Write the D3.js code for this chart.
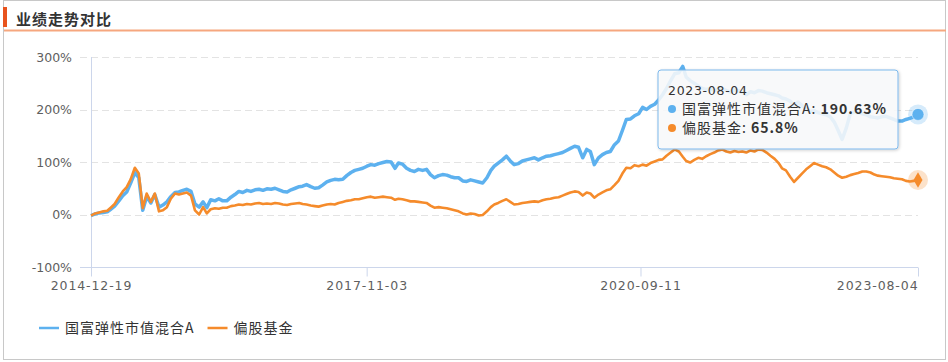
<!DOCTYPE html>
<html>
<head>
<meta charset="utf-8">
<script src="https://cdn.jsdelivr.net/npm/d3@7"></script>
<style>
  body { margin: 0; background: #fff; }
  svg { display: block; font-family: "Noto Sans CJK SC", "DejaVu Sans", sans-serif; }
</style>
</head>
<body>
<div id="chart"></div>
<script>
'use strict';

const title = "业绩走势对比";
const seriesNames = ["国富弹性市值混合A", "偏股基金"];
const startDate = "2014-12-19",
      endDate = "2023-08-04";
const tickDates = ["2014-12-19", "2017-11-03", "2020-09-11", "2023-08-04"];
const yTicks = [-100, 0, 100, 200, 300];

// cumulative return (%), one point per half month: 19th/4th
const fundValues = [
  -2, 1, 3, 4, 5, 10, 16, 26, 36, 43,            // 0
  60, 80, 70, 8, 34, 22, 38, 14, 18, 24,         // 10
  34, 42, 43, 46, 48, 44, 20, 14, 24, 13,        // 20
  28, 26, 30, 26, 26, 33, 38, 44, 42, 46,        // 30
  44, 47, 48, 46, 49, 48, 50, 47, 44, 43,        // 40
  47, 50, 53, 54, 57, 53, 50, 51, 56, 62,        // 50
  65, 67, 66, 67, 74, 80, 84, 86, 88, 92,        // 60
  95, 94, 97, 99, 101, 100, 88, 98, 96, 88,      // 70
  84, 82, 86, 84, 86, 76, 70, 74, 76, 75,        // 80
  72, 70, 70, 64, 63, 66, 64, 62, 60, 70,        // 90
  84, 92, 98, 104, 111, 102, 95, 97, 102, 104,   // 100
  106, 108, 104, 108, 111, 112, 114, 116, 118, 122, // 110
  126, 130, 128, 108, 124, 120, 95, 108, 114, 118,  // 120
  120, 133, 140, 160, 181, 182, 188, 192, 204, 200, // 130
  206, 210, 218, 228, 240, 255, 268, 270, 282, 262, // 140
  255, 250, 245, 240, 238, 240, 236, 238, 240, 236, // 150
  233, 238, 236, 232, 228, 234, 232, 236, 235, 232, // 160
  230, 228, 226, 222, 220, 216, 208, 214, 208, 200, // 170
  196, 198, 194, 192, 190, 186, 176, 160, 143, 165, // 180
  192, 195, 194, 192, 190, 186, 185, 184, 186, 187, // 190
  184, 181, 178, 178, 181, 183, 186, 190.63         // 200
];

const benchValues = [
  -2, 2, 4, 6, 7, 13, 20, 33, 44, 52,            // 0
  67, 89, 78, 12, 40, 24, 40, 6, 8, 14,          // 10
  30, 40, 38, 40, 42, 36, 8, 0, 14, 2,           // 20
  10, 12, 11, 13, 13, 16, 17, 19, 18, 20,        // 30
  19, 21, 22, 20, 21, 20, 22, 21, 19, 18,        // 40
  20, 21, 22, 20, 19, 17, 16, 15, 17, 19,        // 50
  20, 19, 22, 24, 26, 27, 29, 29, 31, 33,        // 60
  34, 32, 33, 34, 33, 32, 28, 30, 29, 27,        // 70
  25, 25, 24, 23, 22, 17, 13, 14, 13, 12,        // 80
  10, 8, 6, 2, 0, 2, 1, -2, -1, 6,               // 90
  14, 19, 22, 26, 29, 24, 19, 20, 22, 23,        // 100
  24, 25, 24, 27, 29, 30, 32, 33, 36, 39,        // 110
  42, 44, 43, 36, 42, 40, 32, 38, 42, 46,        // 120
  48, 56, 64, 78, 89, 88, 94, 92, 95, 93,        // 130
  98, 101, 104, 105, 112, 118, 124, 120, 110, 102, // 140
  99, 104, 108, 106, 111, 115, 118, 122, 124, 120, // 150
  118, 121, 119, 120, 118, 122, 120, 124, 123, 118, // 160
  112, 106, 98, 88, 84, 72, 62, 70, 78, 86,      // 170
  92, 98, 95, 92, 90, 86, 80, 74, 70, 72,        // 180
  75, 77, 79, 82, 82, 80, 76, 74, 73, 72,        // 190
  71, 69, 68, 67, 64, 63, 64, 65.8               // 200
];

const colors = ["#5db1ef", "#f58b2b"];

const W = 948, H = 362;
const parse = d3.timeParse("%Y-%m-%d"),
      fmt = d3.timeFormat("%Y-%m-%d");

// half-month sampling dates
const dates = [parse(startDate)];
d3.timeMonth.range(parse("2015-01-01"), parse("2023-08-01")).forEach(m => {
  dates.push(d3.timeDay.offset(m, 3), d3.timeDay.offset(m, 18));
});
dates.push(parse(endDate));

const margin = {top: 57, right: 30, bottom: 95, left: 91},
      plotW = 918 - margin.left,
      plotH = 267 - margin.top;

const x = d3.scaleTime()
    .domain([parse(startDate), parse(endDate)])
    .range([margin.left, margin.left + plotW]);
const y = d3.scaleLinear()
    .domain([-100, 300])
    .range([margin.top + plotH, margin.top]);

const svg = d3.select("#chart").append("svg")
    .attr("width", W)
    .attr("height", H);

const defs = svg.append("defs");
const shadow = defs.append("filter").attr("id", "shadow")
    .attr("x", "-10%").attr("y", "-10%").attr("width", "120%").attr("height", "130%");
shadow.append("feDropShadow")
    .attr("dx", 1).attr("dy", 1).attr("stdDeviation", 1.5)
    .attr("flood-color", "#000").attr("flood-opacity", 0.2);

// frame + title
svg.append("rect")
    .attr("x", 3.5).attr("y", 0.5)
    .attr("width", 942).attr("height", 359)
    .attr("fill", "none").attr("stroke", "#c8c8c8");
svg.append("rect")
    .attr("x", 3).attr("y", 7).attr("width", 4).attr("height", 20)
    .attr("fill", "#e8531d");
svg.append("line")
    .attr("x1", 4).attr("x2", 946).attr("y1", 30.5).attr("y2", 30.5)
    .attr("stroke", "#f6a77f").attr("stroke-width", 2);
svg.append("text")
    .attr("x", 16).attr("y", 25)
    .attr("font-size", 15).attr("font-weight", "bold")
    .attr("letter-spacing", 1)
    .attr("fill", "#333")
    .text(title);

// grid lines
svg.append("g").selectAll("line")
  .data(yTicks.filter(d => d > -100))
  .enter().append("line")
    .attr("x1", 80).attr("x2", 918)
    .attr("y1", d => Math.round(y(d)) + 0.5)
    .attr("y2", d => Math.round(y(d)) + 0.5)
    .attr("stroke", "#e3e3e3")
    .attr("stroke-dasharray", "7,4");

// y axis labels
const yAxis = svg.append("g")
    .attr("transform", `translate(${margin.left},0)`)
    .call(d3.axisLeft(y).tickValues(yTicks).tickSize(0).tickPadding(19)
      .tickFormat(d => d + "%"));
yAxis.select(".domain").remove();
yAxis.selectAll("text")
    .attr("font-size", 12.5)
    .attr("font-family", "DejaVu Sans")
    .attr("fill", "#606060");

// x axis
const xAxis = svg.append("g")
    .attr("transform", `translate(0,${Math.round(y(-100)) + 0.5})`)
    .call(d3.axisBottom(x).tickValues(tickDates.map(parse)).tickSize(9).tickPadding(5)
      .tickFormat(fmt));
xAxis.select(".domain").attr("stroke", "#ccd6eb").attr("d", `M80,0H918`);
xAxis.selectAll(".tick line").attr("stroke", "#ccd6eb");
xAxis.selectAll("text")
    .attr("font-size", 12.5)
    .attr("font-family", "DejaVu Sans")
    .attr("letter-spacing", 0.9)
    .attr("fill", "#606060")
    .attr("text-anchor", (d, i) => i === tickDates.length - 1 ? "end" : "middle");

// y axis line
svg.append("line")
    .attr("x1", margin.left + 0.5).attr("x2", margin.left + 0.5)
    .attr("y1", margin.top).attr("y2", Math.round(y(-100)))
    .attr("stroke", "#ccd6eb");

// lines
const line = d3.line()
    .x((d, i) => x(dates[i]))
    .y(d => y(d));

svg.append("path")
    .datum(fundValues)
    .attr("fill", "none")
    .attr("stroke", colors[0])
    .attr("stroke-width", 3.5)
    .attr("stroke-linejoin", "round")
    .attr("d", line);

svg.append("path")
    .datum(benchValues)
    .attr("fill", "none")
    .attr("stroke", colors[1])
    .attr("stroke-width", 2.6)
    .attr("stroke-linejoin", "round")
    .attr("d", line);

// end markers
const lastDate = dates[dates.length - 1];
const fundLast = fundValues[fundValues.length - 1],
      benchLast = benchValues[benchValues.length - 1];

svg.append("circle")
    .attr("cx", x(lastDate)).attr("cy", y(fundLast)).attr("r", 10)
    .attr("fill", colors[0]).attr("opacity", 0.25);
svg.append("circle")
    .attr("cx", x(lastDate)).attr("cy", y(fundLast)).attr("r", 6)
    .attr("fill", colors[0]).attr("stroke", "#fff").attr("stroke-width", 0.5);

svg.append("circle")
    .attr("cx", x(lastDate)).attr("cy", y(benchLast)).attr("r", 10)
    .attr("fill", colors[1]).attr("opacity", 0.25);
svg.append("path")
    .attr("transform", `translate(${x(lastDate)},${y(benchLast)})`)
    .attr("d", d3.symbol(d3.symbolDiamond, 70)())
    .attr("fill", colors[1]);

// tooltip
const tip = svg.append("g").attr("transform", "translate(658,70)");
tip.append("rect")
    .attr("width", 240).attr("height", 79).attr("rx", 3)
    .attr("fill", "rgba(250,251,253,0.86)")
    .attr("stroke", "#7db9ec")
    .attr("filter", "url(#shadow)");
tip.append("text")
    .attr("x", 10).attr("y", 25)
    .attr("font-size", 12.5)
    .attr("font-family", "DejaVu Sans")
    .attr("letter-spacing", 0.7)
    .attr("fill", "#333")
    .text(fmt(lastDate));

const rows = [fundLast, benchLast];
rows.forEach((v, i) => {
  const ry = 39 + i * 19;
  tip.append("circle")
      .attr("cx", 14).attr("cy", ry).attr("r", 4)
      .attr("fill", colors[i]);
  const t = tip.append("text")
      .attr("x", 24).attr("y", ry + 5)
      .attr("font-size", 14)
      .attr("letter-spacing", 1)
      .attr("fill", "#333");
  t.append("tspan").text(seriesNames[i] + ": ");
  t.append("tspan").attr("font-weight", "bold").text(v + "%");
});

// legend
const legend = svg.append("g").attr("transform", "translate(39,328)");
let lx = 0;
seriesNames.forEach((name, i) => {
  legend.append("line")
      .attr("x1", lx).attr("x2", lx + 20)
      .attr("stroke", colors[i]).attr("stroke-width", 2.5);
  const t = legend.append("text")
      .attr("x", lx + 26).attr("y", 5)
      .attr("font-size", 14)
      .attr("letter-spacing", 1)
      .attr("fill", "#333")
      .text(name);
  lx += 26 + t.node().getComputedTextLength() + 13;
});
</script>
</body>
</html>
